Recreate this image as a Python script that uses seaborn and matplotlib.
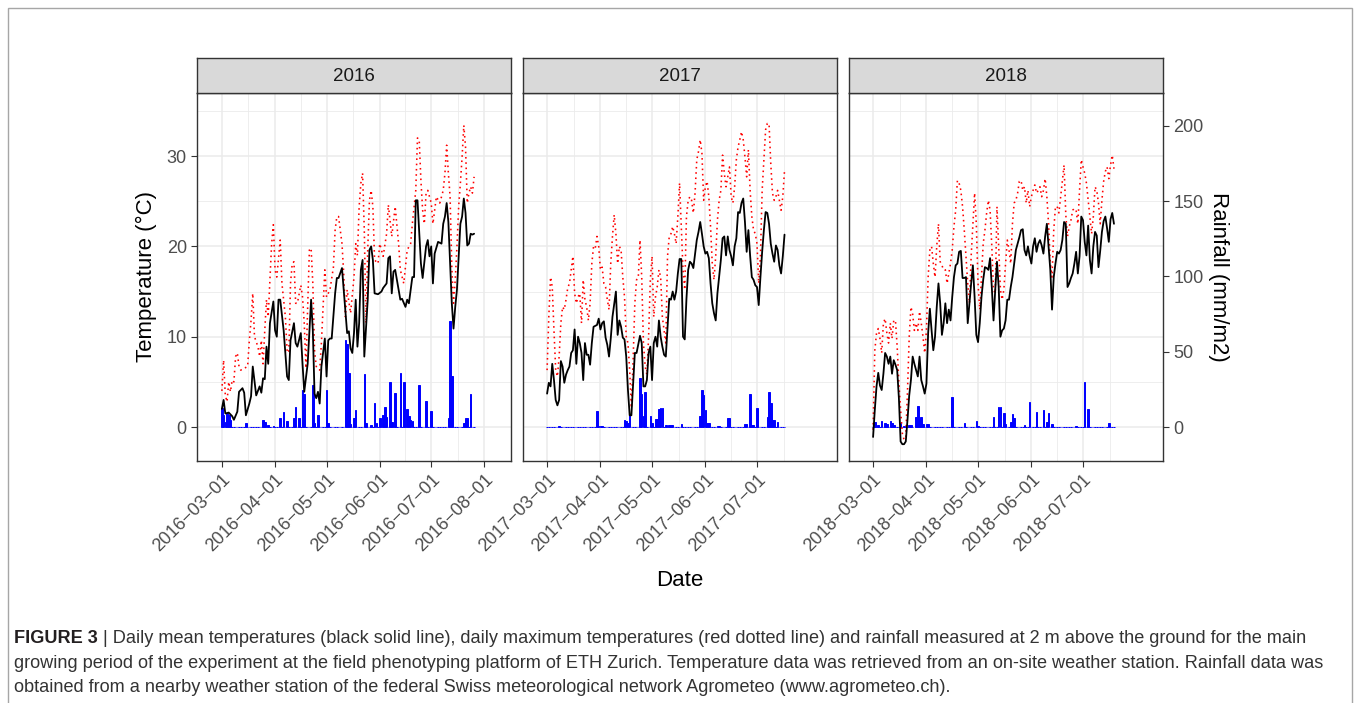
import numpy as np
import pandas as pd
import matplotlib
matplotlib.use("Agg")
import matplotlib.pyplot as plt
import matplotlib.dates as mdates
from matplotlib.patches import Rectangle
import seaborn as sns

# ---------------------------------------------------------------- data
years = [2016, 2017, 2018]
temp_ticks = [0, 10, 20, 30]
rain_ticks = [0, 50, 100, 150, 200]
rain_per_degree = 6  # secondary axis: mm of rain per degree C

tick_dates_2016 = ["2016-03-01", "2016-04-01", "2016-05-01", "2016-06-01", "2016-07-01", "2016-08-01"]
tick_dates_2017 = ["2017-03-01", "2017-04-01", "2017-05-01", "2017-06-01", "2017-07-01"]
tick_dates_2018 = ["2018-03-01", "2018-04-01", "2018-05-01", "2018-06-01", "2018-07-01"]

# day offsets are counted from March 1st of each year
last_day_2016 = 147
mean_days_2016 = [0, 1, 2, 4, 6, 7, 9, 10, 12, 13, 14, 16, 17, 18, 20, 22, 23, 24, 25, 26,
                  27, 28, 30, 31, 32, 33, 34, 36, 38, 39, 40, 42, 43, 44, 46, 47, 48, 50, 52, 53,
                  54, 55, 56, 57, 58, 60, 61, 62, 63, 64, 66, 67, 68, 70, 71, 73, 74, 75, 76, 77,
                  78, 79, 80, 81, 82, 83, 85, 86, 87, 88, 89, 91, 93, 94, 96, 97, 98, 99, 100, 101,
                  103, 104, 105, 107, 108, 109, 111, 112, 113, 114, 116, 117, 119, 120, 121, 122, 123, 124, 126, 128,
                  129, 130, 131, 132, 134, 135, 136, 137, 139, 140, 141, 142, 143, 144, 145, 146, 147]
mean_temp_2016 = [2.0, 3.0, 1.5, 1.6, 1.2, 0.8, 1.7, 3.9, 4.3, 3.8, 1.3, 2.6, 3.4, 6.7, 3.5, 4.5, 3.8, 5.4, 5.3, 8.9,
                  7.0, 11.5, 13.9, 10.7, 10.0, 14.1, 14.1, 10.7, 5.6, 5.2, 9.6, 11.5, 9.3, 8.9, 10.4, 7.0, 3.9, 7.0, 14.1, 10.7,
                  3.7, 3.2, 3.9, 2.6, 6.7, 9.8, 5.6, 9.6, 9.8, 9.8, 14.8, 16.5, 16.5, 17.6, 15.2, 10.4, 10.6, 8.7, 8.2, 10.4,
                  14.1, 8.9, 11.5, 17.4, 18.5, 7.8, 14.1, 19.6, 20.0, 18.5, 14.8, 14.7, 15.0, 15.4, 15.9, 18.7, 18.9, 14.8, 17.2, 17.4,
                  15.2, 14.1, 14.2, 13.3, 14.1, 13.7, 16.6, 16.6, 25.1, 25.1, 18.1, 16.5, 20.0, 20.7, 18.9, 20.0, 15.9, 19.2, 20.5, 20.3,
                  22.5, 23.3, 24.8, 22.7, 13.7, 10.9, 13.3, 15.2, 22.5, 23.3, 25.3, 23.7, 20.1, 20.3, 21.4, 21.3, 21.4]
max_days_2016 = [0, 1, 2, 3, 4, 5, 6, 7, 8, 9, 10, 11, 13, 15, 16, 17, 18, 19, 21, 22,
                 23, 24, 25, 26, 27, 28, 29, 30, 31, 32, 34, 35, 37, 38, 39, 40, 41, 42, 43, 44,
                 46, 47, 48, 49, 50, 51, 52, 53, 54, 55, 57, 58, 60, 61, 63, 65, 66, 67, 68, 70,
                 71, 72, 73, 75, 77, 78, 79, 80, 81, 82, 83, 84, 85, 86, 87, 88, 89, 91, 92, 94,
                 96, 97, 99, 101, 103, 104, 106, 108, 110, 111, 113, 114, 115, 116, 117, 118, 119, 120, 122, 123,
                 124, 125, 127, 129, 130, 131, 132, 133, 134, 135, 136, 137, 138, 139, 140, 141, 142, 143, 144, 145,
                 146, 147]
max_temp_2016 = [4.0, 7.4, 3.5, 2.8, 5.0, 3.9, 5.2, 5.0, 7.8, 8.2, 6.7, 6.3, 6.5, 6.7, 9.6, 11.8, 14.8, 10.0, 8.9, 7.8,
                 9.6, 7.0, 10.7, 14.1, 12.2, 16.3, 20.3, 22.4, 17.4, 16.6, 20.7, 15.9, 12.2, 8.5, 8.2, 15.9, 18.1, 18.3, 13.7, 13.7,
                 15.7, 14.4, 11.5, 6.5, 13.3, 19.6, 19.8, 15.9, 8.5, 6.7, 6.3, 9.3, 17.4, 14.4, 15.2, 17.7, 21.8, 23.3, 23.3, 20.3,
                 17.0, 12.2, 15.2, 12.6, 16.6, 20.3, 19.0, 24.4, 27.0, 28.1, 21.8, 11.5, 19.6, 25.1, 26.2, 24.4, 18.5, 18.1, 20.3, 18.9,
                 21.4, 24.6, 21.1, 24.4, 20.3, 17.4, 15.9, 19.6, 20.3, 22.5, 26.2, 32.0, 31.8, 27.3, 24.0, 22.5, 25.9, 26.2, 24.8, 22.5,
                 24.0, 25.5, 24.8, 26.2, 28.1, 31.2, 28.1, 25.5, 17.7, 13.7, 16.3, 20.0, 24.4, 27.0, 29.9, 33.4, 31.0, 24.8, 25.9, 26.6,
                 25.9, 27.7]
rain_days_2016 = [0, 1, 2, 3, 4, 5, 14, 24, 25, 27, 30, 34, 36, 38, 42, 43, 45, 47, 48, 53,
                  54, 56, 61, 62, 72, 73, 74, 75, 77, 78, 83, 84, 87, 89, 90, 92, 94, 95, 96, 98,
                  99, 101, 104, 106, 108, 109, 110, 111, 115, 119, 122, 132, 133, 134, 141, 142, 143, 145]
rain_mm_2016 = [12.4, 8.0, 3.5, 9.5, 8.0, 4.6, 2.4, 4.6, 3.5, 1.3, 0.7, 5.8, 10.2, 4.0, 5.8, 13.5, 5.8, 24.6, 21.9, 27.9,
                2.4, 8.0, 24.6, 2.4, 57.8, 55.0, 35.6, 1.8, 5.8, 11.3, 35.0, 2.4, 1.3, 16.2, 2.4, 6.2, 8.0, 13.1, 6.9, 30.1,
                3.5, 22.4, 35.6, 30.1, 11.7, 7.3, 4.6, 4.0, 27.9, 17.5, 10.6, 5.8, 70.6, 33.9, 2.4, 6.2, 6.2, 21.9]
missing_rain_2016 = []

last_day_2017 = 138
mean_days_2017 = [0, 1, 2, 3, 4, 5, 6, 7, 8, 9, 10, 11, 12, 13, 14, 15, 16, 17, 18, 19,
                  20, 21, 22, 23, 24, 25, 26, 27, 29, 30, 31, 32, 33, 34, 35, 36, 37, 38, 40, 41,
                  42, 43, 44, 45, 46, 47, 48, 49, 50, 51, 52, 54, 55, 56, 57, 58, 59, 60, 61, 62,
                  63, 64, 65, 66, 67, 68, 69, 71, 72, 73, 74, 75, 76, 77, 78, 79, 80, 81, 82, 83,
                  84, 85, 87, 88, 89, 90, 91, 92, 93, 94, 95, 96, 97, 98, 99, 100, 101, 102, 103, 104,
                  105, 106, 107, 108, 109, 110, 111, 112, 113, 114, 115, 116, 117, 118, 119, 120, 121, 122, 123, 124,
                  125, 126, 127, 128, 129, 130, 131, 132, 133, 134, 135, 136, 137, 138]
mean_temp_2017 = [3.7, 4.9, 4.5, 7.0, 5.2, 3.0, 2.4, 3.0, 7.3, 6.7, 4.9, 5.8, 6.3, 6.7, 8.2, 8.5, 10.8, 7.0, 10.0, 9.3,
                  8.2, 5.2, 9.3, 8.0, 8.0, 6.9, 9.3, 11.1, 11.3, 12.0, 10.8, 11.5, 11.7, 9.9, 9.1, 7.8, 9.8, 12.2, 15.0, 10.2,
                  11.8, 11.1, 9.9, 9.7, 7.8, 4.1, 1.3, 1.3, 4.8, 8.2, 8.2, 10.1, 9.3, 4.5, 4.5, 5.2, 8.2, 8.9, 5.2, 9.3,
                  10.0, 8.9, 11.8, 10.0, 8.9, 8.0, 7.8, 14.2, 14.1, 15.0, 14.1, 15.0, 17.0, 18.6, 18.6, 10.0, 9.7, 14.2, 17.4, 18.3,
                  18.1, 17.6, 20.7, 21.6, 22.7, 21.4, 20.0, 19.2, 19.4, 18.7, 15.9, 13.7, 12.6, 11.8, 14.8, 16.6, 18.5, 20.9, 21.1, 19.0,
                  21.1, 19.6, 18.9, 17.9, 20.0, 20.9, 23.8, 23.7, 24.8, 25.3, 22.7, 19.4, 21.8, 19.0, 16.6, 16.3, 15.7, 15.5, 13.5, 16.6,
                  19.4, 21.8, 23.8, 23.7, 22.5, 20.3, 19.2, 18.3, 20.1, 19.6, 17.9, 17.0, 18.9, 21.3]
max_days_2017 = list(range(0, 139))
max_temp_2017 = [6.3, 12.2, 16.6, 15.5, 10.7, 6.3, 5.6, 7.8, 11.5, 13.3,
                 13.0, 14.1, 15.4, 15.9, 17.4, 18.9, 14.8, 13.7, 14.4, 14.8,
                 11.5, 16.3, 14.1, 13.3, 11.8, 13.7, 18.1, 20.0, 19.8, 21.1,
                 20.0, 17.4, 17.7, 15.9, 15.5, 14.1, 13.0, 18.1, 21.1, 23.5,
                 21.4, 18.1, 20.0, 19.6, 16.6, 14.4, 10.0, 9.3, 6.3, 2.1,
                 7.4, 13.7, 16.3, 16.5, 20.7, 16.6, 9.3, 6.7, 5.8, 10.0,
                 16.3, 18.9, 12.2, 14.4, 15.5, 17.4, 16.6, 12.2, 10.7, 9.3,
                 18.9, 21.1, 21.4, 22.2, 21.4, 20.3, 23.3, 27.0, 22.2, 17.4,
                 15.2, 23.3, 25.1, 25.5, 25.1, 23.7, 25.9, 29.6, 30.5, 31.8,
                 30.3, 25.1, 26.6, 27.2, 25.5, 22.2, 18.1, 16.3, 18.9, 22.9,
                 25.1, 26.2, 30.1, 28.1, 26.6, 27.7, 28.8, 25.5, 24.8, 26.6,
                 29.6, 31.0, 31.8, 32.7, 31.8, 29.9, 27.7, 30.7, 26.2, 23.3,
                 21.8, 21.4, 20.3, 15.9, 18.9, 26.2, 29.6, 32.9, 33.6, 33.6,
                 29.2, 25.9, 25.1, 25.5, 26.2, 25.1, 24.0, 25.5, 28.4]
rain_days_2017 = [7, 29, 30, 31, 32, 45, 46, 47, 48, 54, 55, 56, 57, 60, 61, 63, 64, 65, 66, 67,
                  69, 71, 72, 73, 78, 89, 90, 91, 92, 93, 94, 99, 100, 105, 106, 115, 116, 118, 119, 120,
                  122, 128, 129, 130, 131, 132, 134]
rain_mm_2017 = [0.5, 10.9, 0.9, 0.9, 0.9, 4.6, 4.0, 2.4, 8.6, 32.3, 21.9, 7.0, 23.5, 7.3, 2.9, 5.1, 5.1, 11.7, 12.4, 12.4,
                1.3, 1.5, 1.5, 1.5, 1.8, 7.3, 24.6, 21.3, 11.3, 2.4, 2.4, 0.9, 0.9, 5.8, 5.8, 1.8, 1.8, 21.9, 1.3, 1.3,
                12.4, 6.9, 23.5, 15.7, 4.6, 4.6, 3.5]
missing_rain_2017 = []

last_day_2018 = 140
mean_days_2018 = list(range(0, 141))
mean_temp_2018 = [-1.1, 1.9, 4.5, 6.0, 4.6, 4.1, 5.9, 8.2, 7.8, 7.0,
                  7.8, 5.9, 7.4, 6.9, 6.3, 3.2, -1.6, -1.9, -1.9, -1.6,
                  0.8, 3.5, 5.2, 7.8, 7.0, 6.3, 5.6, 7.8, 5.2, 4.5,
                  3.7, 4.8, 10.4, 13.1, 10.7, 8.5, 10.0, 13.3, 15.9, 13.7,
                  10.2, 11.5, 13.7, 11.5, 13.0, 11.8, 14.4, 16.6, 17.9, 18.1,
                  19.4, 19.5, 16.5, 16.5, 16.6, 11.5, 13.7, 15.9, 17.9, 14.4,
                  10.2, 9.4, 11.5, 14.4, 16.3, 17.7, 17.6, 17.4, 18.7, 15.5,
                  11.8, 15.2, 18.3, 15.5, 10.0, 10.7, 10.9, 11.8, 14.1, 14.1,
                  15.5, 16.6, 18.1, 19.6, 20.3, 21.0, 21.8, 21.9, 19.6, 19.0,
                  20.0, 18.9, 18.1, 20.0, 20.9, 19.4, 20.3, 20.7, 20.1, 19.2,
                  21.1, 22.5, 20.0, 17.4, 13.0, 16.6, 18.1, 19.4, 19.2, 19.6,
                  20.7, 22.7, 22.5, 15.5, 15.9, 16.5, 17.0, 18.1, 19.4, 17.0,
                  18.9, 23.3, 22.9, 20.5, 19.0, 22.3, 18.5, 17.0, 20.0, 21.6,
                  21.2, 17.7, 19.5, 21.6, 22.8, 23.3, 22.0, 20.5, 23.0, 23.7,
                  22.5]
max_days_2018 = list(range(0, 141))
max_temp_2018 = [-0.3, 8.5, 10.4, 10.9, 9.8, 8.2, 11.5, 12.0, 10.4, 9.3,
                 11.5, 9.8, 11.8, 11.8, 8.9, 4.8, 1.9, -0.7, -1.4, -1.1,
                 4.0, 10.0, 13.3, 12.5, 10.7, 11.5, 10.7, 12.8, 11.5, 10.0,
                 8.2, 10.7, 16.6, 19.6, 20.0, 18.1, 16.6, 20.0, 22.5, 18.3,
                 17.9, 17.4, 17.4, 15.9, 17.0, 18.1, 19.6, 22.2, 24.0, 27.3,
                 27.0, 26.2, 24.4, 21.8, 18.9, 15.9, 13.7, 18.9, 22.5, 25.9,
                 22.5, 15.9, 13.0, 16.6, 20.3, 21.8, 23.7, 25.1, 24.0, 20.0,
                 15.2, 14.8, 24.4, 20.0, 15.2, 14.1, 15.2, 18.1, 20.7, 19.6,
                 18.1, 22.5, 24.8, 25.1, 25.9, 27.2, 27.3, 26.2, 26.6, 24.8,
                 26.2, 24.4, 25.5, 26.2, 26.8, 25.9, 26.2, 26.6, 25.5, 26.2,
                 27.5, 25.5, 22.5, 18.1, 16.6, 21.8, 24.4, 24.4, 23.7, 25.5,
                 27.3, 29.0, 23.5, 21.1, 22.2, 22.9, 24.0, 24.2, 24.0, 22.5,
                 26.2, 29.6, 28.8, 28.1, 27.0, 25.1, 23.3, 21.4, 23.3, 26.6,
                 26.2, 24.8, 22.5, 25.1, 27.2, 28.3, 28.8, 27.5, 29.0, 30.1,
                 28.6]
rain_days_2018 = [1, 3, 5, 7, 8, 10, 11, 12, 16, 18, 21, 22, 25, 26, 27, 28, 29, 31, 32, 46,
                  53, 60, 61, 70, 73, 74, 76, 77, 80, 81, 82, 88, 91, 95, 99, 101, 102, 104, 118, 123,
                  125, 137]
rain_mm_2018 = [3.5, 1.1, 4.0, 2.4, 2.0, 3.8, 2.4, 1.1, 2.4, 0.7, 1.1, 1.1, 6.9, 14.0, 5.1, 6.9, 2.0, 1.8, 1.8, 20.1,
                2.4, 4.0, 1.0, 6.9, 13.5, 13.5, 9.5, 2.0, 3.5, 8.6, 5.8, 1.3, 16.8, 9.7, 11.3, 3.5, 9.5, 2.0, 0.5, 29.7,
                12.0, 2.7]
missing_rain_2018 = [24]

caption_bold = "FIGURE 3"
caption_lines = [
    " | Daily mean temperatures (black solid line), daily maximum temperatures (red dotted line) and rainfall measured at 2 m above the ground for the main",
    "growing period of the experiment at the field phenotyping platform of ETH Zurich. Temperature data was retrieved from an on-site weather station. Rainfall data was",
    "obtained from a nearby weather station of the federal Swiss meteorological network Agrometeo (www.agrometeo.ch).",
]

data = {
    2016: dict(last=last_day_2016, mean_days=mean_days_2016, mean=mean_temp_2016, max_days=max_days_2016,
               max=max_temp_2016, rain_days=rain_days_2016, rain=rain_mm_2016, missing=missing_rain_2016,
               ticks=tick_dates_2016),
    2017: dict(last=last_day_2017, mean_days=mean_days_2017, mean=mean_temp_2017, max_days=max_days_2017,
               max=max_temp_2017, rain_days=rain_days_2017, rain=rain_mm_2017, missing=missing_rain_2017,
               ticks=tick_dates_2017),
    2018: dict(last=last_day_2018, mean_days=mean_days_2018, mean=mean_temp_2018, max_days=max_days_2018,
               max=max_temp_2018, rain_days=rain_days_2018, rain=rain_mm_2018, missing=missing_rain_2018,
               ticks=tick_dates_2018),
}
for y, d in data.items():
    assert len(d['mean_days']) == len(d['mean']), (y, 'mean')
    assert len(d['max_days']) == len(d['max']), (y, 'max')
    assert len(d['rain_days']) == len(d['rain']), (y, 'rain')

# ---------------------------------------------------------------- style
sns.set_theme(style="white")
plt.rcParams['font.family'] = ['Liberation Sans', 'DejaVu Sans']

W, H = 1356, 703
fig = plt.figure(figsize=(W / 100, H / 100), dpi=100)
fig.patch.set_facecolor('white')


def fx(px):
    return px / W


def fy(py):
    return 1 - py / H


panel_lefts = [197, 523, 849]
panel_w = 314
plot_top, plot_bot = 93, 461
strip_top = 58
ylim = (-3.76, 36.98)

GRID = '#EBEBEB'
EDGE = '#333333'
TICKTXT = '#4D4D4D'
TICK_PT = 13
TICK_LEN = 4.3

axes = []
for i, year in enumerate(years):
    d = data[year]
    start = pd.Timestamp(f"{year}-03-01")
    s0 = mdates.date2num(start)
    ax = fig.add_axes([fx(panel_lefts[i]), fy(plot_bot), panel_w / W, (plot_bot - plot_top) / H])
    ax.set_facecolor('white')
    ax.set_axisbelow(True)

    # rainfall bars (drawn on the temperature scale, divided by the secondary-axis factor)
    rain = pd.Series(0.0, index=range(d['last'] + 1))
    rain.loc[d['rain_days']] = d['rain']
    rain = rain.drop(d['missing'])
    rain_dates = start + pd.to_timedelta(rain.index, unit='D')
    ax.bar(rain_dates, rain.values / rain_per_degree, width=0.9, color='#0000FF',
           edgecolor='#0000FF', linewidth=0.7, zorder=2)

    df_max = pd.DataFrame({'date': start + pd.to_timedelta(d['max_days'], unit='D'), 'temp': d['max']})
    sns.lineplot(data=df_max, x='date', y='temp', ax=ax, color='#FF0000', linewidth=1.15,
                 linestyle=(0, (1, 2.3)), estimator=None, zorder=3)
    df_mean = pd.DataFrame({'date': start + pd.to_timedelta(d['mean_days'], unit='D'), 'temp': d['mean']})
    sns.lineplot(data=df_mean, x='date', y='temp', ax=ax, color='black', linewidth=1.3,
                 estimator=None, zorder=4)

    span = d['last'] + 0.9
    ax.set_xlim(s0 - 0.45 - 0.05 * span, s0 + d['last'] + 0.45 + 0.05 * span)
    ax.set_ylim(*ylim)
    ax.set_xlabel('')
    ax.set_ylabel('')

    # gridlines
    ax.set_yticks(temp_ticks)
    ax.set_yticks([5, 15, 25, 35], minor=True)
    majors = [mdates.date2num(pd.Timestamp(t)) for t in d['ticks']]
    ax.set_xticks(majors)
    ax.set_xticklabels([t.replace('-', '\u2212') for t in d['ticks']], rotation=45,
                       ha='right', va='top', rotation_mode='anchor')
    months = mdates.date2num(pd.date_range(f"{year}-02-01", f"{year}-09-01", freq='MS'))
    ax.set_xticks((months[:-1] + months[1:]) / 2, minor=True)
    ax.grid(which='major', color=GRID, linewidth=1.1)
    ax.grid(which='minor', color=GRID, linewidth=0.6)

    ax.tick_params(axis='x', which='major', bottom=True, length=TICK_LEN, width=0.8, color=EDGE,
                   labelcolor=TICKTXT, labelsize=TICK_PT, pad=3)
    ax.tick_params(axis='both', which='minor', length=0)
    if i == 0:
        ax.tick_params(axis='y', which='major', left=True, length=TICK_LEN, width=0.8, color=EDGE,
                       labelcolor=TICKTXT, labelsize=TICK_PT, pad=3)
    else:
        ax.tick_params(axis='y', which='major', left=False, labelleft=False, length=0)
    for sp in ax.spines.values():
        sp.set_color(EDGE)
        sp.set_linewidth(1.0)
        sp.set_visible(True)

    if i == len(years) - 1:
        tw = ax.twinx()
        tw.set_ylim(ylim[0] * rain_per_degree, ylim[1] * rain_per_degree)
        tw.set_yticks(rain_ticks)
        tw.grid(False)
        tw.tick_params(axis='y', right=True, length=TICK_LEN, width=0.8, color=EDGE,
                       labelcolor=TICKTXT, labelsize=TICK_PT, pad=3)
        for sp in tw.spines.values():
            sp.set_visible(False)

    # facet strip
    sax = fig.add_axes([fx(panel_lefts[i]), fy(plot_top), panel_w / W, (plot_top - strip_top) / H])
    sax.set_facecolor('#D9D9D9')
    sax.set_xticks([])
    sax.set_yticks([])
    for sp in sax.spines.values():
        sp.set_color(EDGE)
        sp.set_linewidth(1.0)
        sp.set_visible(True)
    sax.text(0.5, 0.48, str(year), ha='center', va='center', size=13.5, color='#1A1A1A',
             transform=sax.transAxes)
    axes.append(ax)

# axis titles
mid_y = fy((plot_top + plot_bot) / 2)
fig.text(fx(146), mid_y, "Temperature (°C)", rotation=90, ha='center', va='center', size=16, color='black')
fig.text(fx(1219), mid_y, "Rainfall (mm/m2)", rotation=270, ha='center', va='center', size=16, color='black')
fig.text(fx(680), fy(580), "Date", ha='center', va='center', size=16, color='black')

# outer frame
fig.patches.append(Rectangle((fx(8), -0.05), fx(1352) - fx(8), fy(8) + 0.05, transform=fig.transFigure,
                             fill=False, edgecolor='#A6A6A6', linewidth=1.0))

# caption
renderer = fig.canvas.get_renderer()


def text_width(txt, weight, size):
    t = fig.text(0, 0, txt, size=size, weight=weight)
    w = t.get_window_extent(renderer).width
    t.remove()
    return w


base = 12.0
w0 = text_width(caption_bold, 'bold', base) + text_width(caption_lines[0], 'normal', base)
cap_size = base * (1309 - 14) / w0
CAP_COL = '#333333'
baselines = [643, 667.5, 692]
tb = fig.text(fx(14), fy(baselines[0]), caption_bold, size=cap_size, weight='bold', color='#231F20',
              va='baseline', ha='left')
bw = tb.get_window_extent(renderer).width
fig.text(fx(14 + bw), fy(baselines[0]), caption_lines[0], size=cap_size, color=CAP_COL, va='baseline', ha='left')
fig.text(fx(14), fy(baselines[1]), caption_lines[1], size=cap_size, color=CAP_COL, va='baseline', ha='left')
fig.text(fx(14), fy(baselines[2]), caption_lines[2], size=cap_size, color=CAP_COL, va='baseline', ha='left')

fig.savefig("out.png", dpi=100, facecolor='white')
